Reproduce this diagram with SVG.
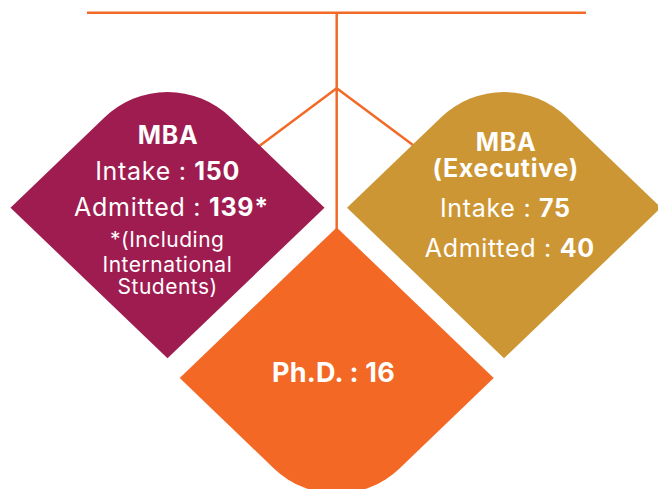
<svg xmlns="http://www.w3.org/2000/svg" width="658" height="489" viewBox="0 0 658 489">
  <style>
    .conn { stroke: #F26A27; stroke-width: 2.5; fill: none; }
    .t { font-family: Inter, "Open Sans", "Liberation Sans", sans-serif; fill: #FFFFFF; text-anchor: middle; }
    .m { font-size: 25px; font-weight: 400; letter-spacing: 0.7px; }
    .s { font-size: 21px; font-weight: 400; letter-spacing: 0.5px; }
    .b { font-weight: 700; }
  </style>
  <rect width="658" height="489" fill="#FFFFFF"/>
  <g id="connectors">
    <line class="conn" x1="87" y1="12.7" x2="586" y2="12.7"/>
    <line class="conn" x1="336.7" y1="12.7" x2="336.7" y2="232"/>
    <line class="conn" x1="336.7" y1="88.3" x2="255" y2="149.2"/>
    <line class="conn" x1="336.7" y1="88.3" x2="420" y2="150.3"/>
  </g>
  <g id="node-mba">
    <path d="M 10.5 207.7 L 104.7 117.3 A 90.7 90.7 0 0 1 230.3 117.3 L 324.5 207.7 L 167.5 358.3 Z" fill="#9E1C50"/>
    <text class="t m b" x="168" y="144.3">MBA</text>
    <text class="t m" x="167.6" y="180">Intake : <tspan class="b">150</tspan></text>
    <text class="t m" x="171.5" y="216">Admitted : <tspan class="b">139*</tspan></text>
    <text class="t s" x="167.2" y="246.5">*(Including</text>
    <text class="t s" x="167.4" y="271.5">International</text>
    <text class="t s" x="167.7" y="294">Students)</text>
  </g>
  <g id="node-mba-executive">
    <path d="M 347 207.7 L 441.2 117.3 A 90.7 90.7 0 0 1 566.8 117.3 L 661 207.7 L 504 358.3 Z" fill="#CD9634"/>
    <text class="t m b" x="506" y="150.7">MBA</text>
    <text class="t m b" x="505.6" y="176.7">(Executive)</text>
    <text class="t m" x="505.3" y="216.7">Intake : <tspan class="b">75</tspan></text>
    <text class="t m" x="509.8" y="256.7">Admitted : <tspan class="b">40</tspan></text>
  </g>
  <g id="node-phd">
    <path d="M 336.7 227.4 L 493.7 378 L 399.5 468.4 A 90.7 90.7 0 0 1 273.9 468.4 L 179.7 378 Z" fill="#F36825"/>
    <text class="t b" font-size="27" x="333.5" y="382.3" letter-spacing="0.2">Ph.D. : 16</text>
  </g>
</svg>
